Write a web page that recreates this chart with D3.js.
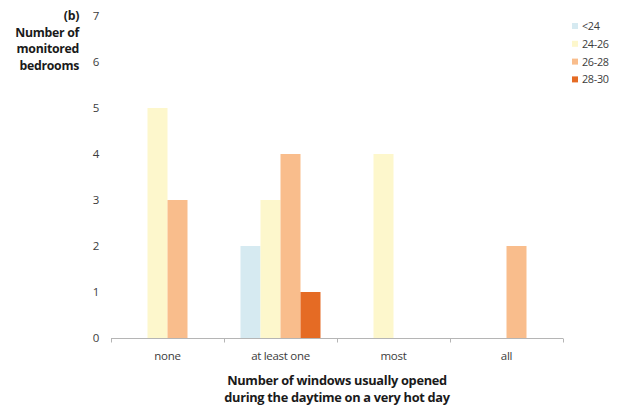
<!DOCTYPE html>
<html>
<head>
<meta charset="utf-8">
<script src="https://cdn.jsdelivr.net/npm/d3@7"></script>
<style>
  html, body { margin: 0; padding: 0; background: #fff; }
  svg { display: block; }
</style>
</head>
<body>
<svg id="chart" width="619" height="405"></svg>
<script>
// Window-opening categories along the x axis
const categories = ["none", "at least one", "most", "all"];
// Bedroom temperature bands (°C)
const bands = ["<24", "24-26", "26-28", "28-30"];
// Number of monitored bedrooms per category, one array per temperature band
const valuesBelow24 = [0, 2, 0, 0];
const values24to26  = [5, 3, 4, 0];
const values26to28  = [3, 4, 0, 2];
const values28to30  = [0, 1, 0, 0];
const yTicks = [0, 1, 2, 3, 4, 5, 6, 7];
const bandColors = ["#d6eaf1", "#fdf7cc", "#f9bd8c", "#e56b24"];

const seriesValues = [valuesBelow24, values24to26, values26to28, values28to30];

const svg = d3.select("#chart");
const margin = { left: 111, right: 56, top: 16, bottom: 67 };
const width = 619, height = 405;

const x = d3.scaleBand().domain(categories)
  .range([margin.left, width - margin.right]).paddingInner(0).paddingOuter(0);
const xInner = d3.scaleBand().domain(bands).range([0, 80]);
const y = d3.scaleLinear().domain([0, 7]).range([height - margin.bottom, margin.top]);

const font = "'Open Sans', 'Noto Sans', sans-serif";

// Bars
const rows = [];
categories.forEach((c, i) => {
  bands.forEach((b, j) => {
    const v = seriesValues[j][i];
    if (v > 0) rows.push({ cat: c, band: b, value: v, color: bandColors[j] });
  });
});
svg.append("g").selectAll("rect").data(rows).join("rect")
  .attr("x", d => x(d.cat) + (x.bandwidth() - 80) / 2 + xInner(d.band))
  .attr("y", d => y(d.value))
  .attr("width", xInner.bandwidth())
  .attr("height", d => y(0) - y(d.value))
  .attr("fill", d => d.color);

// X axis: baseline with ticks at category boundaries
const xAxisG = svg.append("g");
const y0 = y(0) + 0.5;
xAxisG.append("line")
  .attr("x1", x.range()[0]).attr("x2", x.range()[1])
  .attr("y1", y0).attr("y2", y0)
  .attr("stroke", "#b5b5b5").attr("stroke-width", 1);
const boundaries = categories.map(c => x(c)).concat([x.range()[1]]);
xAxisG.selectAll("line.tick").data(boundaries).join("line")
  .attr("class", "tick")
  .attr("x1", d => Math.round(d) + 0.5).attr("x2", d => Math.round(d) + 0.5)
  .attr("y1", y0).attr("y2", y0 + 4)
  .attr("stroke", "#b5b5b5");
xAxisG.selectAll("text").data(categories).join("text")
  .attr("x", d => x(d) + x.bandwidth() / 2)
  .attr("y", y(0) + 22)
  .attr("text-anchor", "middle")
  .attr("font-family", font)
  .attr("font-size", 11.5)
  .attr("letter-spacing", "-0.3px")
  .attr("fill", "#3c3c3c")
  .text(d => d);

// Y axis labels (no axis line)
svg.append("g").selectAll("text").data(yTicks).join("text")
  .attr("x", 96)
  .attr("y", d => y(d) + 4)
  .attr("text-anchor", "middle")
  .attr("font-family", font)
  .attr("font-size", 11.5)
  .attr("fill", "#3c3c3c")
  .text(d => d);

// Y axis title
const yTitle = ["(b)", "Number of", "monitored", "bedrooms"];
svg.append("g").selectAll("text").data(yTitle).join("text")
  .attr("x", 79)
  .attr("y", (d, i) => 20 + i * 16.7)
  .attr("text-anchor", "end")
  .attr("font-family", font)
  .attr("font-weight", "bold")
  .attr("font-size", 12.3)
  .attr("letter-spacing", "-0.3px")
  .attr("fill", "#1a1a1a")
  .text(d => d);

// X axis title
const xTitle = ["Number of windows usually opened", "during the daytime on a very hot day"];
svg.append("g").selectAll("text").data(xTitle).join("text")
  .attr("x", 337)
  .attr("y", (d, i) => 385 + i * 16.5)
  .attr("text-anchor", "middle")
  .attr("font-family", font)
  .attr("font-weight", "bold")
  .attr("font-size", 12.8)
  .attr("letter-spacing", "-0.3px")
  .attr("fill", "#1a1a1a")
  .text(d => d);

// Legend
const legend = svg.append("g").selectAll("g").data(bands).join("g")
  .attr("transform", (d, i) => `translate(572, ${23 + i * 17.8})`);
legend.append("rect")
  .attr("width", 6).attr("height", 6)
  .attr("fill", (d, i) => bandColors[i]);
legend.append("text")
  .attr("x", 10).attr("y", 7)
  .attr("font-family", font)
  .attr("font-size", 10.8)
  .attr("letter-spacing", "-0.3px")
  .attr("fill", "#3c3c3c")
  .text(d => d);
</script>
</body>
</html>
